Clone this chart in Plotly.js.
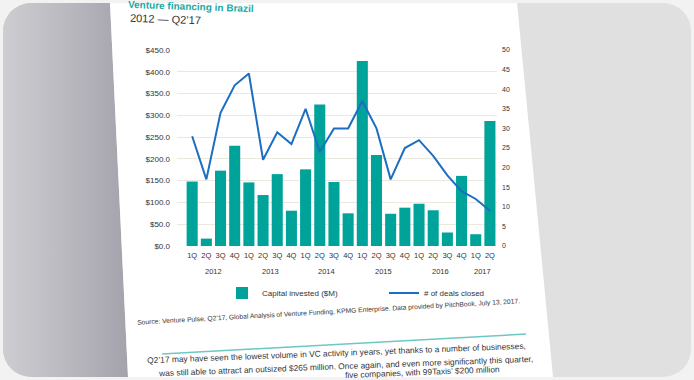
<!DOCTYPE html>
<html>
<head>
<meta charset="utf-8">
<script src="https://cdn.plot.ly/plotly-3.0.1.min.js"></script>
<style>
  html, body { margin: 0; padding: 0; width: 694px; height: 380px; overflow: hidden; background: #f2f2f2; }
  #frame { position: absolute; left: 3px; top: 3px; width: 688px; height: 374px; border-radius: 28px; overflow: hidden; background: #e0e0e0; }
  #leftbg { position: absolute; left: 0; top: 0; width: 688px; height: 374px;
            background: linear-gradient(to right, #cdcdd1 0px, #bbbac1 60px, #a4a3ac 125px);
            clip-path: polygon(0 0, 107px 0, 125px 100%, 0 100%); }
  #page { position: absolute; left: 0; top: 0; width: 688px; height: 374px; background: #ffffff;
          clip-path: polygon(107px 0, 514px 0, 550px 100%, 125px 100%); }
  #chart { position: absolute; left: 0; top: 0; width: 694px; height: 380px; }
</style>
</head>
<body>
<div id="frame"><div id="leftbg"></div><div id="page"></div></div>
<div id="chart"></div>
<script>
// ---- data ----
const years = ['2012','2012','2012','2012','2013','2013','2013','2013','2014','2014','2014','2014',
               '2015','2015','2015','2015','2016','2016','2016','2016','2017','2017'];
const quarters = ['1Q','2Q','3Q','4Q','1Q','2Q','3Q','4Q','1Q','2Q','3Q','4Q',
                  '1Q','2Q','3Q','4Q','1Q','2Q','3Q','4Q','1Q','2Q'];
const capitalInvested = [148, 17, 173, 230, 146, 117, 165, 81, 176, 325, 147, 75,
                         425, 209, 74, 88, 97, 82, 31, 161, 27, 287];
const dealsClosed = [28, 17, 34, 41, 44, 22, 29, 26, 35, 24, 30, 30,
                     37, 30, 17, 25, 27, 23, 18, 14, 12, 9];
const leftTicks = [0, 50, 100, 150, 200, 250, 300, 350, 400, 450];
const rightTicks = [0, 5, 10, 15, 20, 25, 30, 35, 40, 45, 50];

// categories built from the label arrays
const cats = quarters.map((q, i) => years[i] + ' ' + q);
const uniqueYears = [...new Set(years)];

// ---- layout helpers (pixel -> paper) ----
const L = 177, T = 50, W = 320, PH = 196;
const px = x => (x - L) / W;
const py = y => (T + PH - y) / PH;

const teal = '#00a39a';
const blue = '#1b6ec2';
const sans = 'Liberation Sans, Arial, sans-serif';
const narrow = 'Liberation Sans Narrow, Arial Narrow, Liberation Sans, sans-serif';

const traces = [
  {
    type: 'bar', name: 'Capital invested ($M)',
    x: cats, y: capitalInvested,
    marker: { color: teal }, yaxis: 'y', hoverinfo: 'skip'
  },
  {
    type: 'scatter', mode: 'lines', name: '# of deals closed',
    x: cats, y: dealsClosed,
    line: { color: blue, width: 2 }, yaxis: 'y2', hoverinfo: 'skip'
  }
];

const yearAnnotations = uniqueYears.map(yr => {
  const first = years.indexOf(yr), last = years.lastIndexOf(yr);
  return {
    text: yr, xref: 'x', yref: 'paper', x: (first + last) / 2, y: py(271),
    xanchor: 'center', yanchor: 'middle', showarrow: false,
    font: { size: 7.5, family: sans, color: '#333333' }
  };
});

const layout = {
  width: 694, height: 380,
  margin: { l: L, r: 694 - L - W, t: T, b: 380 - T - PH, pad: 0 },
  paper_bgcolor: 'rgba(0,0,0,0)', plot_bgcolor: 'rgba(0,0,0,0)',
  showlegend: true,
  bargap: 0.22,
  font: { family: sans, color: '#333333' },
  xaxis: {
    type: 'category', range: [-1.07, 21.5],
    tickvals: cats, ticktext: quarters,
    showgrid: false, zeroline: false, showline: false, ticks: '', ticklabelstandoff: 3,
    tickfont: { size: 7.5, family: sans, color: '#333333' }
  },
  yaxis: {
    range: [0, 450], tickvals: leftTicks, ticktext: leftTicks.map(v => '$' + v.toFixed(1)),
    showgrid: true, gridcolor: '#ebe8de', gridwidth: 1, zeroline: false, showline: false,
    ticks: '', ticklabelstandoff: 6,
    tickfont: { size: 8, family: sans, color: '#333333' }
  },
  yaxis2: {
    overlaying: 'y', side: 'right', range: [0, 50], tickvals: rightTicks,
    showgrid: false, zeroline: false, showline: false, ticks: '', ticklabelstandoff: 4,
    tickfont: { size: 7, family: sans, color: '#333333' }
  },
  legend: {
    orientation: 'h', xref: 'container', yref: 'container',
    x: 222 / 694, y: 1 - 293 / 380, xanchor: 'left', yanchor: 'middle',
    entrywidth: 117, entrywidthmode: 'pixels', bgcolor: 'rgba(0,0,0,0)',
    font: { size: 8, family: narrow, color: '#333333' }
  },
  shapes: [
    { type: 'line', xref: 'paper', yref: 'paper',
      x0: px(162), y0: py(354), x1: px(526), y1: py(334),
      line: { color: '#6cc8c3', width: 1.5 } }
  ],
  annotations: yearAnnotations.concat([
    { text: 'Venture financing in Brazil', xref: 'paper', yref: 'paper',
      x: px(126), y: py(7), xanchor: 'left', yanchor: 'middle', showarrow: false, textangle: 2,
      font: { size: 10, family: sans, color: '#1aa9a3', weight: 'bold' } },
    { text: '2012 \u2014 Q2\u201917', xref: 'paper', yref: 'paper',
      x: px(128), y: py(19), xanchor: 'left', yanchor: 'middle', showarrow: false, textangle: 2,
      font: { size: 11, family: sans, color: '#333333' } },
    { text: 'Source: Venture Pulse, Q2\u201917, Global Analysis of Venture Funding, KPMG Enterprise. Data provided by PitchBook, July 13, 2017.',
      xref: 'paper', yref: 'paper', x: px(328), y: py(312), xanchor: 'center', yanchor: 'middle',
      showarrow: false, textangle: -3.2,
      font: { size: 6.7, family: narrow, color: '#333333' } },
    { text: 'Q2\u201917 may have seen the lowest volume in VC activity in years, yet thanks to a number of businesses,',
      xref: 'paper', yref: 'paper', x: px(336), y: py(353), xanchor: 'center', yanchor: 'middle',
      showarrow: false, textangle: -2.2,
      font: { size: 8.4, family: narrow, color: '#333333' } },
    { text: 'was still able to attract an outsized $265 million. Once again, and even more significantly this quarter,',
      xref: 'paper', yref: 'paper', x: px(345), y: py(366), xanchor: 'center', yanchor: 'middle',
      showarrow: false, textangle: -2.2,
      font: { size: 8.4, family: narrow, color: '#333333' } },
    { text: 'five companies, with 99Taxis\u2019 $200 million',
      xref: 'paper', yref: 'paper', x: px(502), y: py(372), xanchor: 'right', yanchor: 'middle',
      showarrow: false, textangle: -2.2,
      font: { size: 8.4, family: narrow, color: '#333333' } }
  ])
};

Plotly.newPlot('chart', traces, layout, { staticPlot: true, displayModeBar: false });
</script>
</body>
</html>
